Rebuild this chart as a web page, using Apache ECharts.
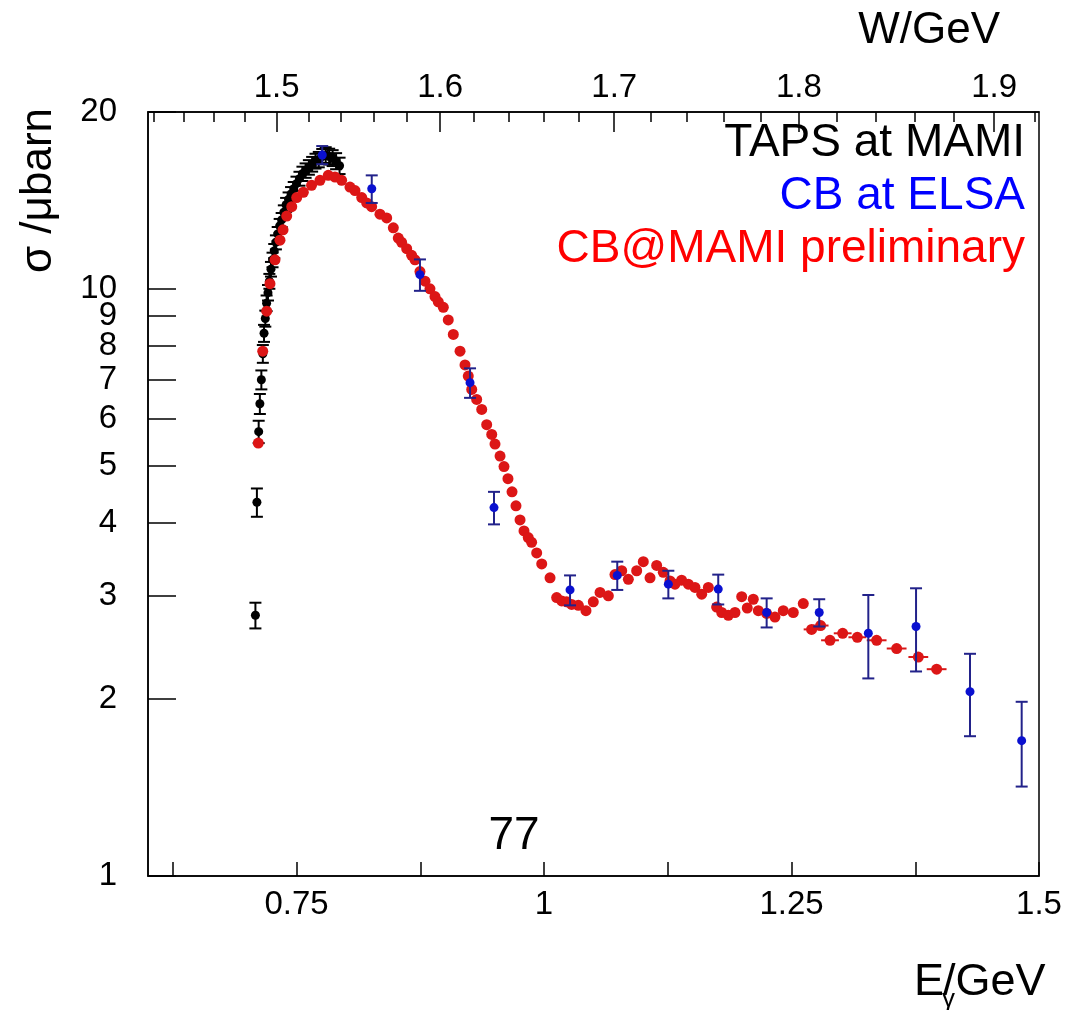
<!DOCTYPE html>
<html>
<head>
<meta charset="utf-8">
<title>eta photoproduction cross section</title>
<script src="https://cdn.jsdelivr.net/npm/echarts@6/dist/echarts.min.js"></script>
<style>
  html, body { margin: 0; padding: 0; background: #fff; }
  #chart { width: 1071px; height: 1010px; }
</style>
</head>
<body>
<div id="chart"></div>
<script>
// ---- data: total cross section sigma (µb) vs photon energy E (GeV) ----

// TAPS at MAMI
const tapsE = [0.7085, 0.7100, 0.7118, 0.7130, 0.7145, 0.7160, 0.7172, 0.7185, 0.7198, 0.7212,
  0.7226, 0.7242, 0.7258, 0.7275, 0.7292, 0.7310, 0.7330, 0.7350, 0.7372, 0.7395,
  0.7420, 0.7445, 0.7472, 0.7500, 0.7530, 0.7560, 0.7592, 0.7625, 0.7658, 0.7692,
  0.7725, 0.7760, 0.7795, 0.7830, 0.7865, 0.7900, 0.7935];
const tapsSigma = [2.78, 4.33, 5.71, 6.37, 7.00, 7.75, 8.40, 8.90, 9.45, 9.85,
  10.3, 10.8, 11.2, 11.6, 12.0, 12.4, 12.8, 13.1, 13.5, 13.9,
  14.2, 14.5, 14.8, 15.1, 15.4, 15.7, 15.9, 16.1, 16.3, 16.5,
  16.6, 16.8, 16.9, 16.8, 16.7, 16.5, 16.2];
const tapsErr = [0.14, 0.24, 0.25, 0.25, 0.26, 0.27, 0.28, 0.28, 0.29, 0.30,
  0.30, 0.31, 0.32, 0.32, 0.33, 0.34, 0.35, 0.36, 0.37, 0.38,
  0.39, 0.40, 0.40, 0.42, 0.42, 0.44, 0.45, 0.46, 0.47, 0.48,
  0.50, 0.50, 0.52, 0.52, 0.52, 0.52, 0.52];

// CB at ELSA
const elsaE = [0.776, 0.826, 0.8747, 0.9253, 0.9495, 1.0263, 1.074, 1.1256, 1.176,
  1.2249, 1.278, 1.3276, 1.3758, 1.4303, 1.4825];
const elsaSigma = [16.9, 14.8, 10.57, 6.92, 4.24, 3.07, 3.25, 3.14, 3.08,
  2.81, 2.81, 2.59, 2.66, 2.06, 1.70];
const elsaErr = [0.6, 0.8, 0.65, 0.40, 0.27, 0.18, 0.18, 0.17, 0.18,
  0.16, 0.15, 0.42, 0.43, 0.33, 0.28];

// CB@MAMI preliminary
const mamiE = [0.7114, 0.7159, 0.7199, 0.7232, 0.7283, 0.7333, 0.7364, 0.7401, 0.7452, 0.7502,
  0.7569, 0.7652, 0.7737, 0.7821, 0.7889, 0.7956, 0.8040, 0.8091, 0.8159, 0.8209,
  0.8259, 0.8343, 0.8411, 0.8478, 0.8528, 0.8562, 0.8613, 0.8663, 0.8697, 0.8747,
  0.8798, 0.8848, 0.8899, 0.8932, 0.8983, 0.9033, 0.9084, 0.9152, 0.9202, 0.9235,
  0.9270, 0.9320, 0.9371, 0.9421, 0.9472, 0.9505, 0.9556, 0.9596, 0.9636, 0.9677,
  0.9717, 0.9758, 0.9798, 0.9841, 0.9875, 0.9926, 0.9977, 1.0061, 1.0128, 1.0179,
  1.0229, 1.0279, 1.0347, 1.0424, 1.0498, 1.0566, 1.0650, 1.0717, 1.0785, 1.0852,
  1.0936, 1.1003, 1.1071, 1.1138, 1.1205, 1.1273, 1.1323, 1.1390, 1.1458, 1.1525,
  1.1593, 1.1660, 1.1744, 1.1795, 1.1862, 1.1929, 1.1997, 1.2053, 1.2114, 1.2165,
  1.2249, 1.2333, 1.2417, 1.2518, 1.2619, 1.2703, 1.2794, 1.2889, 1.3017, 1.3165,
  1.3360, 1.3562, 1.3781, 1.3966];
const mamiSigma = [5.46, 7.83, 9.16, 10.2, 11.2, 12.1, 12.6, 13.3, 13.8, 14.3,
  14.6, 15.0, 15.3, 15.6, 15.5, 15.3, 14.9, 14.7, 14.3, 14.0,
  13.8, 13.4, 13.2, 12.7, 12.2, 12.0, 11.7, 11.4, 11.2, 10.7,
  10.3, 10.0, 9.7, 9.5, 9.3, 8.85, 8.36, 7.83, 7.42, 7.10,
  6.74, 6.48, 6.23, 5.87, 5.65, 5.44, 5.19, 4.98, 4.75, 4.51,
  4.27, 4.04, 3.87, 3.77, 3.70, 3.55, 3.40, 3.22, 2.98, 2.94,
  2.93, 2.90, 2.89, 2.83, 2.93, 3.04, 3.00, 3.26, 3.31, 3.20,
  3.31, 3.43, 3.22, 3.38, 3.29, 3.18, 3.14, 3.19, 3.14, 3.10,
  3.02, 3.10, 2.87, 2.81, 2.78, 2.81, 2.99, 2.86, 2.96, 2.83,
  2.80, 2.76, 2.83, 2.81, 2.91, 2.63, 2.67, 2.52, 2.59, 2.55,
  2.52, 2.44, 2.36, 2.25];
// half bin width (GeV) of the CB@MAMI points
const mamiBinHalf = [0, 0, 0, 0, 0, 0, 0, 0, 0, 0,
  0, 0, 0, 0, 0, 0, 0, 0, 0, 0,
  0, 0, 0, 0, 0, 0, 0, 0, 0, 0,
  0, 0, 0, 0, 0, 0, 0, 0, 0, 0,
  0, 0, 0, 0, 0, 0, 0, 0, 0, 0,
  0, 0, 0, 0, 0, 0, 0, 0, 0, 0,
  0, 0, 0, 0, 0, 0, 0, 0, 0, 0,
  0, 0, 0, 0, 0, 0, 0, 0, 0, 0,
  0, 0, 0, 0, 0, 0, 0, 0, 0, 0,
  0, 0, 0, 0, 0, 0.008, 0.008, 0.009, 0.009, 0.009,
  0.010, 0.010, 0.010, 0.010];

// axis ticks
const eTicks = [0.625, 0.75, 0.875, 1, 1.125, 1.25, 1.375, 1.5];
const eLabels = [0.75, 1, 1.25, 1.5];
const sigmaTicks = [1, 2, 3, 4, 5, 6, 7, 8, 9, 10, 20];
const wMajor = [1.5, 1.6, 1.7, 1.8, 1.9];
const wMinor = [1.42, 1.44, 1.46, 1.48, 1.52, 1.54, 1.56, 1.58, 1.62, 1.64, 1.66, 1.68,
  1.72, 1.74, 1.76, 1.78, 1.82, 1.84, 1.86, 1.88, 1.92];

// ---- kinematics: W = sqrt(m_p^2 + 2 m_p E) ----
const MP = 0.938272;
const toE = w => (w * w - MP * MP) / (2 * MP);
const toW = e => Math.sqrt(MP * MP + 2 * MP * e);

const FONT = '"Liberation Sans", Arial, Helvetica, sans-serif';
const TICK_FONT = 33;

const chart = echarts.init(document.getElementById('chart'), null, { renderer: 'canvas' });

function vBars(color, lineWidth, capHalf) {
  return function (params, api) {
    const x = api.value(0);
    const lo = api.coord([x, api.value(1)]);
    const hi = api.coord([x, api.value(2)]);
    const st = { stroke: color, lineWidth: lineWidth };
    return {
      type: 'group',
      children: [
        { type: 'line', shape: { x1: lo[0], y1: lo[1], x2: hi[0], y2: hi[1] }, style: st },
        { type: 'line', shape: { x1: lo[0] - capHalf, y1: lo[1], x2: lo[0] + capHalf, y2: lo[1] }, style: st },
        { type: 'line', shape: { x1: hi[0] - capHalf, y1: hi[1], x2: hi[0] + capHalf, y2: hi[1] }, style: st }
      ]
    };
  };
}

function hBars(color, lineWidth) {
  return function (params, api) {
    const y = api.value(2);
    const a = api.coord([api.value(0), y]);
    const b = api.coord([api.value(1), y]);
    return {
      type: 'line',
      shape: { x1: a[0], y1: a[1], x2: b[0], y2: b[1] },
      style: { stroke: color, lineWidth: lineWidth }
    };
  };
}

const tapsBars = tapsE.map((e, i) => [e, tapsSigma[i] - tapsErr[i], tapsSigma[i] + tapsErr[i]]);
const elsaBars = elsaE.map((e, i) => [e, elsaSigma[i] - elsaErr[i], elsaSigma[i] + elsaErr[i]]);
const mamiBars = mamiE.map((e, i) => [e - mamiBinHalf[i], e + mamiBinHalf[i], mamiSigma[i]])
  .filter(d => d[1] > d[0]);

const axisLine = { show: true, lineStyle: { color: '#000', width: 1.5 } };

const option = {
  backgroundColor: '#fff',
  animation: false,
  grid: {
    left: 148, top: 112, right: 32, bottom: 134,
    show: true, borderColor: '#000', borderWidth: 1.5, backgroundColor: 'transparent'
  },
  xAxis: [
    {
      type: 'value', min: 0.6, max: 1.5, position: 'bottom',
      axisLine: axisLine,
      splitLine: { show: false },
      axisTick: { show: true, inside: true, length: 14, customValues: eTicks, lineStyle: { color: '#000', width: 1.5 } },
      axisLabel: {
        customValues: eLabels, margin: 12, color: '#000', fontSize: TICK_FONT, fontFamily: FONT,
        formatter: v => String(v)
      }
    },
    {
      type: 'value', min: 0.6, max: 1.5, position: 'top',
      axisLine: axisLine,
      splitLine: { show: false },
      axisTick: { show: true, inside: true, length: 20, customValues: wMajor.map(toE), lineStyle: { color: '#000', width: 1.5 } },
      axisLabel: {
        customValues: wMajor.map(toE), margin: 8, color: '#000', fontSize: TICK_FONT, fontFamily: FONT,
        formatter: v => toW(v).toFixed(1)
      }
    },
    {
      type: 'value', min: 0.6, max: 1.5, position: 'top',
      axisLine: { show: false },
      splitLine: { show: false },
      axisTick: { show: true, inside: true, length: 10, customValues: wMinor.map(toE), lineStyle: { color: '#000', width: 1.5 } },
      axisLabel: { show: false }
    }
  ],
  yAxis: [
    {
      type: 'log', logBase: 10, min: 1, max: 20,
      axisLine: axisLine,
      splitLine: { show: false },
      minorTick: { show: false },
      axisTick: { show: true, inside: true, length: 28, customValues: sigmaTicks, lineStyle: { color: '#000', width: 1.5 } },
      axisLabel: {
        customValues: sigmaTicks, margin: 31, color: '#000', fontSize: TICK_FONT, fontFamily: FONT,
        formatter: v => String(Math.round(v))
      }
    }
  ],
  series: [
    {
      name: 'TAPS at MAMI errors', type: 'custom', renderItem: vBars('#000', 2, 6),
      data: tapsBars, encode: { x: 0, y: [1, 2] }, z: 2
    },
    {
      name: 'TAPS at MAMI', type: 'scatter', data: tapsE.map((e, i) => [e, tapsSigma[i]]),
      symbol: 'circle', symbolSize: 9, itemStyle: { color: '#000', opacity: 1 }, z: 3
    },
    {
      name: 'CB@MAMI preliminary bins', type: 'custom', renderItem: hBars('#d81818', 2),
      data: mamiBars, encode: { x: [0, 1], y: 2 }, z: 4
    },
    {
      name: 'CB@MAMI preliminary', type: 'scatter', data: mamiE.map((e, i) => [e, mamiSigma[i]]),
      symbol: 'circle', symbolSize: 11, itemStyle: { color: '#dc1616', opacity: 1 }, z: 5
    },
    {
      name: 'CB at ELSA errors', type: 'custom', renderItem: vBars('#22228a', 2, 6),
      data: elsaBars, encode: { x: 0, y: [1, 2] }, z: 6
    },
    {
      name: 'CB at ELSA', type: 'scatter', data: elsaE.map((e, i) => [e, elsaSigma[i]]),
      symbol: 'circle', symbolSize: 9, itemStyle: { color: '#0a10d0', opacity: 1 }, z: 7
    }
  ],
  graphic: [
    { type: 'text', x: 1000, y: 31, style: { text: 'W/GeV', font: '44px ' + FONT, fill: '#000', align: 'right', verticalAlign: 'middle' } },
    { type: 'text', x: 1025, y: 143, style: { text: 'TAPS at MAMI', font: '46px ' + FONT, fill: '#000', align: 'right', verticalAlign: 'middle' } },
    { type: 'text', x: 1025, y: 196, style: { text: 'CB at ELSA', font: '46px ' + FONT, fill: '#0000ff', align: 'right', verticalAlign: 'middle' } },
    { type: 'text', x: 1025, y: 249, style: { text: 'CB@MAMI preliminary', font: '46px ' + FONT, fill: '#ff0000', align: 'right', verticalAlign: 'middle' } },
    { type: 'text', x: 514, y: 836, style: { text: '77', font: '46px ' + FONT, fill: '#000', align: 'center', verticalAlign: 'middle' } },
    { type: 'text', x: 39, y: 108, rotation: Math.PI / 2, style: { text: 'σ /μbarn', font: '44px ' + FONT, fill: '#000', align: 'right', verticalAlign: 'middle' } },
    { type: 'text', x: 914, y: 983, style: { text: 'E', font: '45px ' + FONT, fill: '#000', align: 'left', verticalAlign: 'middle' } },
    { type: 'text', x: 942, y: 1000, style: { text: 'γ', font: '26px ' + FONT, fill: '#000', align: 'left', verticalAlign: 'middle' } },
    { type: 'text', x: 943, y: 983, style: { text: '/GeV', font: '45px ' + FONT, fill: '#000', align: 'left', verticalAlign: 'middle' } }
  ]
};

chart.setOption(option);
</script>
</body>
</html>
